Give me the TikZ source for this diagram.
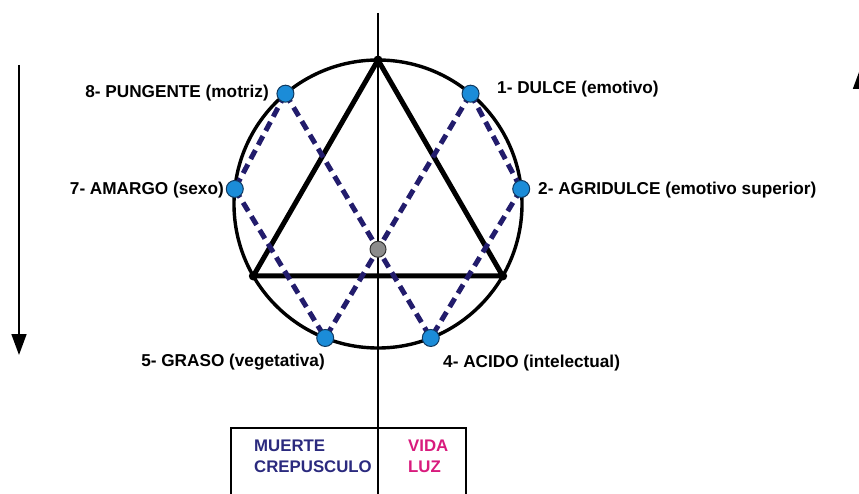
\documentclass[tikz,border=0pt]{standalone}
\usepackage{fontspec}
\setmainfont{Liberation Sans}
\usetikzlibrary{arrows.meta}
\definecolor{navy}{HTML}{221C6C}
\definecolor{navytext}{HTML}{2B2A7E}
\definecolor{magentatext}{HTML}{D81B7D}
\definecolor{dotblue}{HTML}{1B8CD8}
\definecolor{dotedge}{HTML}{10385E}
\tikzset{
  lbl/.style={inner sep=0pt, font=\fontsize{17.2}{21}\selectfont\bfseries},
  boxlbl/.style={inner sep=0pt, font=\fontsize{16.8}{21}\selectfont\bfseries},
  bdot/.style={circle, inner sep=0pt, minimum size=17pt, fill=dotblue, draw=dotedge, line width=1pt},
  gdot/.style={circle, inner sep=0pt, minimum size=16pt, fill=black!45, draw=black!80, line width=1pt},
  vdot/.style={circle, inner sep=0pt, minimum size=9pt, fill=black},
  dashline/.style={navy, line width=5pt, dash pattern=on 10pt off 6pt},
  thickline/.style={black, line width=5pt, line join=round},
  ring/.style={black, line width=3.4pt},
  axis/.style={black, line width=2pt},
  sidearrow/.style={black, line width=1.8pt, -{Triangle[width=15pt,length=21pt]}}
}
\begin{document}
\begin{tikzpicture}[x=1pt,y=-1pt]
\useasboundingbox (0,0) rectangle (859,494);
\clip (0,0) rectangle (859,494);
\coordinate (C) at (378,204);
\def\R{144pt}
% key points on the circle
\path (C) ++(90:\R) coordinate (T);
\path (C) ++(210:\R) coordinate (BL);
\path (C) ++(330:\R) coordinate (BR);
\path (C) ++(50:\R) coordinate (p1);
\path (C) ++(6:\R) coordinate (p2);
\path (C) ++(-68.5:\R) coordinate (p4);
\path (C) ++(-111.5:\R) coordinate (p5);
\path (C) ++(174:\R) coordinate (p7);
\path (C) ++(130:\R) coordinate (p8);
% axis
\coordinate (axtop) at (378,13);
\coordinate (axbot) at (378,500);
\draw[axis] (axtop) -- (axbot);
% box
\coordinate (bx1) at (231,500);
\coordinate (bx2) at (231,428);
\coordinate (bx3) at (466,428);
\coordinate (bx4) at (466,500);
\draw[black, line width=1.8pt] (bx1) -- (bx2) -- (bx3) -- (bx4);
% circle
\draw[ring] (C) circle[radius=\R];
% triangle
\draw[thickline] (T) -- (BL) -- (BR) -- cycle;
% dashed lines
\draw[dashline] (p8) -- (p7);
\draw[dashline] (p7) -- (p5);
\draw[dashline] (p8) -- (p4);
\draw[dashline] (p1) -- (p2);
\draw[dashline] (p2) -- (p4);
\draw[dashline] (p1) -- (p5);
% vertex dots
\node[vdot] (vT) at (T) {};
\node[vdot] (vBL) at (BL) {};
\node[vdot] (vBR) at (BR) {};
% dots
\node[gdot] (ctr) at (intersection of p8--p4 and p1--p5) {};
\node[bdot] (d1) at (p1) {};
\node[bdot] (d2) at (p2) {};
\node[bdot] (d4) at (p4) {};
\node[bdot] (d5) at (p5) {};
\node[bdot] (d7) at (p7) {};
\node[bdot] (d8) at (p8) {};
% labels
\node[lbl, anchor=east] (l8) at (269,93) {8- PUNGENTE (motriz)};
\node[lbl, anchor=west] (l1) at (497,89) {1- DULCE (emotivo)};
\node[lbl, anchor=east] (l7) at (224,190) {7- AMARGO (sexo)};
\node[lbl, anchor=west] (l2) at (538,190) {2- AGRIDULCE (emotivo superior)};
\node[lbl, anchor=east] (l5) at (325,362) {5- GRASO (vegetativa)};
\node[lbl, anchor=west] (l4) at (443,363) {4- ACIDO (intelectual)};
\node[boxlbl, anchor=west, text=navytext] (m1) at (254,446) {MUERTE};
\node[boxlbl, anchor=west, text=navytext] (m2) at (254,467) {CREPUSCULO};
\node[boxlbl, anchor=west, text=magentatext] (v1) at (408,446) {VIDA};
\node[boxlbl, anchor=west, text=magentatext] (v2) at (408,467) {LUZ};
% side arrows
\coordinate (la1) at (19,65);
\coordinate (la2) at (19,355);
\draw[sidearrow] (la1) -- (la2);
\coordinate (ra1) at (860.5,355);
\coordinate (ra2) at (860.5,68);
\draw[sidearrow] (ra1) -- (ra2);
\end{tikzpicture}
\end{document}
